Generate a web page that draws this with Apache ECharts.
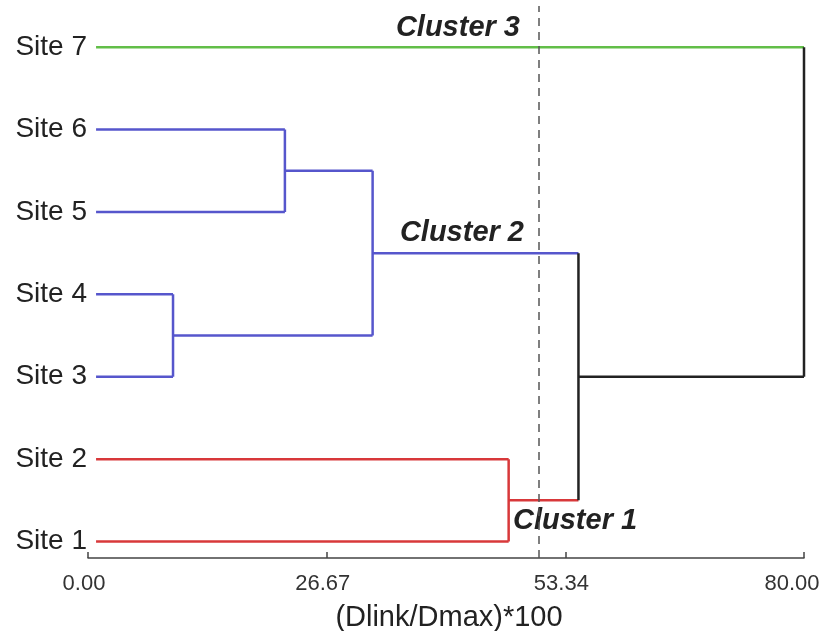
<!DOCTYPE html>
<html>
<head>
<meta charset="utf-8">
<script src="https://cdn.jsdelivr.net/npm/echarts@6/dist/echarts.min.js"></script>
<style>
  html, body { margin: 0; padding: 0; background: #fff; }
  #chart { width: 824px; height: 631px; }
</style>
</head>
<body>
<div id="chart"></div>
<script>
// site names, bottom to top
const sites = ["Site 1", "Site 2", "Site 3", "Site 4", "Site 5", "Site 6", "Site 7"];
// cluster of each site
const siteCluster = [1, 1, 2, 2, 2, 2, 3];
// merges: [left node, right node, linkage distance]; leaves are 0..6, new nodes 7..
const merges = [
    [2, 3, 9.5],
    [4, 5, 22.0],
    [7, 8, 31.8],
    [0, 1, 47.0],
    [9, 10, 54.8],
    [11, 6, 80.0]
];
const leafDist = 0.9;
const cutoff = 50.4;
const xTicks = [0, 26.67, 53.34, 80];
const clusterNames = ["Cluster 1", "Cluster 2", "Cluster 3"];

const colors = { 1: "#d8383a", 2: "#5656cc", 3: "#62be48", 0: "#222222" };

// node positions: leaves on 1..7, parents halfway between children
const nodeY = sites.map((s, i) => i + 1);
const nodeH = sites.map(() => leafDist);
const nodeC = siteCluster.slice();
merges.forEach(m => {
    nodeY.push((nodeY[m[0]] + nodeY[m[1]]) / 2);
    nodeH.push(m[2]);
    nodeC.push(nodeC[m[0]] === nodeC[m[1]] ? nodeC[m[0]] : 0);
});

// each merge: two horizontals in the child colour, one vertical in the parent colour
const segs = [];
merges.forEach((m, k) => {
    const p = sites.length + k;
    [m[0], m[1]].forEach(c => {
        segs.push({
            coords: [[nodeH[c], nodeY[c]], [m[2], nodeY[c]]],
            lineStyle: { color: colors[nodeC[c]] }
        });
    });
    segs.push({
        coords: [[m[2], nodeY[m[0]]], [m[2], nodeY[m[1]]]],
        lineStyle: { color: colors[nodeC[p]] }
    });
});

const chart = echarts.init(document.getElementById("chart"));
const font = '"Liberation Sans", Arial, sans-serif';
const clusterFont = 'italic bold 29px ' + font;
const option = {
    animation: false,
    grid: { left: 88, right: 20, top: 6, bottom: 73, outerBoundsMode: "none", containLabel: false },
    xAxis: {
        type: "value",
        min: 0,
        max: 80,
        name: "(Dlink/Dmax)*100",
        nameLocation: "middle",
        nameGap: 45,
        nameTextStyle: { fontFamily: font, fontSize: 29, color: "#222", padding: [0, 0, 0, 6] },
        splitLine: { show: false },
        axisLine: { lineStyle: { color: "#444", width: 1.5 } },
        axisTick: { inside: true, length: 6, customValues: xTicks, lineStyle: { color: "#444", width: 1.5 } },
        axisLabel: {
            customValues: xTicks,
            // last label sits a little left of its tick, as in the original
            formatter: v => v === 80 ? "{last|" + v.toFixed(2) + "}" : v.toFixed(2),
            fontFamily: font,
            fontSize: 22,
            color: "#333",
            margin: 15,
            padding: [0, 8, 0, 0],
            rich: {
                last: { fontFamily: font, fontSize: 22, color: "#333", padding: [0, 16, 0, 0] }
            }
        }
    },
    yAxis: {
        type: "value",
        min: 0.8,
        max: 7.5,
        splitLine: { show: false },
        axisLine: { show: false },
        axisTick: { show: false },
        axisLabel: {
            customValues: sites.map((s, i) => i + 1),
            formatter: v => sites[Math.round(v) - 1],
            fontFamily: font,
            fontSize: 28,
            color: "#222",
            margin: 1,
            padding: [0, 0, 6, 0]
        }
    },
    series: [
        {
            type: "lines",
            coordinateSystem: "cartesian2d",
            polyline: true,
            lineStyle: { width: 2.5, opacity: 1 },
            data: segs
        },
        {
            type: "line",
            data: [],
            markLine: {
                silent: true,
                symbol: "none",
                label: { show: false },
                lineStyle: { color: "#555", type: [8, 6], width: 1.5 },
                data: [{ xAxis: cutoff }]
            }
        }
    ],
    graphic: [
        { type: "text", x: 520, y: 28, style: { text: clusterNames[2], font: clusterFont, fill: "#222", textAlign: "right", textVerticalAlign: "middle", align: "right", verticalAlign: "middle" } },
        { type: "text", x: 524, y: 233, style: { text: clusterNames[1], font: clusterFont, fill: "#222", textAlign: "right", textVerticalAlign: "middle", align: "right", verticalAlign: "middle" } },
        { type: "text", x: 513, y: 521, style: { text: clusterNames[0], font: clusterFont, fill: "#222", textAlign: "left", textVerticalAlign: "middle", align: "left", verticalAlign: "middle" } }
    ]
};
chart.setOption(option);
</script>
</body>
</html>
